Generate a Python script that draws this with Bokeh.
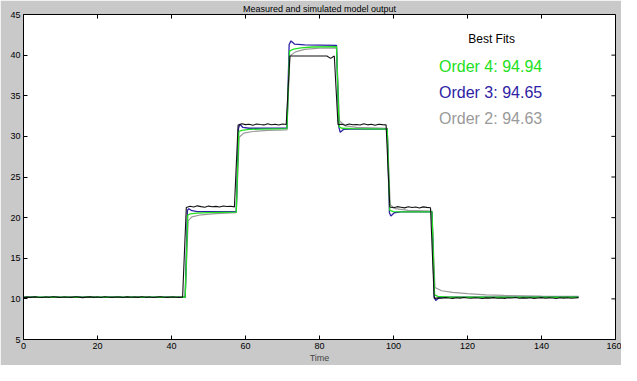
from bokeh.plotting import figure
from bokeh.models import Range1d, FixedTicker, Label
from bokeh.embed import file_html
from bokeh.resources import INLINE

# ---- data ----
x_ticks = [0, 20, 40, 60, 80, 100, 120, 140, 160]
y_ticks = [5, 10, 15, 20, 25, 30, 35, 40, 45]

meas_t = list(range(151))
meas_y = [
    10.15, 10.22, 10.18, 10.25, 10.20, 10.17, 10.23, 10.19, 10.26, 10.21,
    10.16, 10.24, 10.20, 10.18, 10.27, 10.22, 10.15, 10.21, 10.25, 10.19,
    10.23, 10.17, 10.26, 10.20, 10.18, 10.24, 10.21, 10.16, 10.25, 10.20,
    10.22, 10.18, 10.27, 10.19, 10.23, 10.17, 10.21, 10.26, 10.20, 10.18,
    10.24, 10.21, 10.19, 10.22,
    21.25, 21.40, 21.30, 21.45, 21.35, 21.28, 21.42, 21.33, 21.38, 21.30, 21.44, 21.36, 21.40, 21.32,
    31.40, 31.55, 31.45, 31.50, 31.38, 31.52, 31.46, 31.41, 31.55, 31.44, 31.49, 31.40, 31.53, 31.47,
    39.90, 39.90, 39.90, 39.90, 39.90, 39.90, 39.90, 39.90, 39.90, 39.90, 39.90, 39.60, 39.90,
    31.45, 31.50, 31.38, 31.52, 31.44, 31.47, 31.40, 31.55, 31.42, 31.49, 31.36, 31.50, 31.45, 31.41,
    21.30, 21.22, 21.35, 21.28, 21.20, 21.33, 21.25, 21.30, 21.18, 21.32, 21.26, 21.22,
    10.05, 10.12, 10.08, 10.15, 10.10, 10.06, 10.13, 10.09, 10.16, 10.11,
    10.07, 10.14, 10.10, 10.05, 10.12, 10.09, 10.15, 10.08, 10.11, 10.06,
    10.13, 10.10, 10.16, 10.07, 10.12, 10.09, 10.14, 10.06, 10.11, 10.15,
    10.08, 10.12, 10.10, 10.05, 10.14, 10.09, 10.13, 10.07, 10.11, 10.15,
]

o4_t = [0, 43.7, 44.4, 45, 47, 50, 57.5, 58.2, 59, 61, 64, 71.2, 71.9, 73, 75, 78, 84.6,
        85.3, 86, 89, 98.3, 99, 100, 103, 110.4, 111.1, 112, 115, 150]
o4_y = [10.2, 10.2, 20.3, 20.45, 20.55, 20.62, 20.68, 30.6, 30.75, 30.85, 30.9, 30.95, 40.5, 40.75,
        40.9, 41.0, 41.05, 31.2, 31.0, 30.95, 30.9, 20.9, 20.75, 20.7, 20.7, 10.5, 10.3, 10.2, 10.2]

o3_t = [0, 43.7, 44.3, 44.7, 45.5, 47, 57.5, 58.1, 58.5, 59.3, 61, 71.2, 71.8, 72.3, 73.3, 76,
        84.6, 85.2, 85.6, 86.5, 88, 98.3, 98.9, 99.3, 100.2, 102, 110.4, 111, 111.4, 112.3, 114, 150]
o3_y = [10.2, 10.2, 20.9, 21.1, 20.85, 20.75, 20.75, 31.0, 31.5, 31.1, 31.0, 31.0, 41.3, 41.75,
        41.35, 41.25, 41.2, 31.2, 30.5, 30.85, 30.9, 30.9, 20.6, 20.2, 20.6, 20.7, 20.7, 10.3,
        9.8, 10.15, 10.2, 10.2]

o2_t = [0, 43.7, 44.5, 45.5, 48, 52, 57.5, 58.3, 59.5, 62, 66, 71.2, 72, 73.5, 76, 80, 84.6,
        85.4, 87, 90, 98.3, 99.1, 100.5, 104, 110.4, 111.2, 113, 116, 120, 125, 130, 140, 150]
o2_y = [10.2, 10.2, 19.6, 20.1, 20.35, 20.5, 20.6, 29.9, 30.4, 30.6, 30.75, 30.8, 39.9, 40.4,
        40.7, 40.85, 40.9, 31.9, 31.3, 31.1, 31.0, 21.6, 21.1, 20.9, 20.8, 11.4, 11.0, 10.8,
        10.65, 10.5, 10.42, 10.35, 10.3]

fit_labels = ["Order 4: 94.94", "Order 3: 94.65", "Order 2: 94.63"]

# ---- styles ----
GREEN = "#22e022"
BLUE = "#2e22a4"
GRAY = "#9a9a9a"
BG = "#c9c9c9"
FONT = "Liberation Sans"

p = figure(width=621, height=365, output_backend="svg", toolbar_location=None,
           x_range=Range1d(0, 160), y_range=Range1d(5, 45),
           title="Measured and simulated model output",
           min_border_left=23, min_border_right=6, min_border_top=2, min_border_bottom=2)

p.border_fill_color = BG
p.background_fill_color = "white"
p.outline_line_color = "black"
p.outline_line_width = 1
p.grid.visible = False

p.title.align = "center"
p.title.text_font = FONT
p.title.text_font_size = "9px"
p.title.text_font_style = "normal"
p.title.text_color = "black"
p.title.standoff = 2
p.title.offset = 0

for ax in (p.xaxis[0], p.yaxis[0]):
    ax.major_tick_in = 4
    ax.major_tick_out = 0
    ax.minor_tick_in = 0
    ax.minor_tick_out = 0
    ax.axis_line_color = "black"
    ax.major_tick_line_color = "black"
    ax.major_label_text_font = FONT
    ax.major_label_text_font_size = "9px"
    ax.major_label_text_color = "black"
    ax.major_label_standoff = 3

p.xaxis.ticker = FixedTicker(ticks=x_ticks)
p.yaxis.ticker = FixedTicker(ticks=y_ticks)
p.xaxis.axis_label = "Time"
p.xaxis.axis_label_text_font = FONT
p.xaxis.axis_label_text_font_size = "9px"
p.xaxis.axis_label_text_font_style = "normal"
p.xaxis.axis_label_standoff = 1

# mirrored ticks on top and right
p.segment(x0=x_ticks, y0=[45] * len(x_ticks), x1=x_ticks, y1=[44.5] * len(x_ticks),
          line_color="black", line_width=1)
p.segment(x0=[160] * len(y_ticks), y0=y_ticks, x1=[158.9] * len(y_ticks), y1=y_ticks,
          line_color="black", line_width=1)

p.line(o2_t, o2_y, line_color=GRAY, line_width=1.2)
p.line(o3_t, o3_y, line_color=BLUE, line_width=1.3)
p.line(o4_t, o4_y, line_color=GREEN, line_width=1.3)
p.line(meas_t, meas_y, line_color="#111111", line_width=1.1)

p.add_layout(Label(x=126.5, y=42.0, text="Best Fits", text_font=FONT, text_font_size="12px",
                   text_color="black", text_align="center", text_baseline="middle"))
for txt, col, yy in zip(fit_labels, [GREEN, BLUE, GRAY], [38.6, 35.4, 32.2]):
    p.add_layout(Label(x=112.3, y=yy, text=txt, text_font=FONT, text_font_size="16px",
                       text_color=col, text_align="left", text_baseline="middle"))

open("out.html", "w").write(file_html(p, INLINE))
